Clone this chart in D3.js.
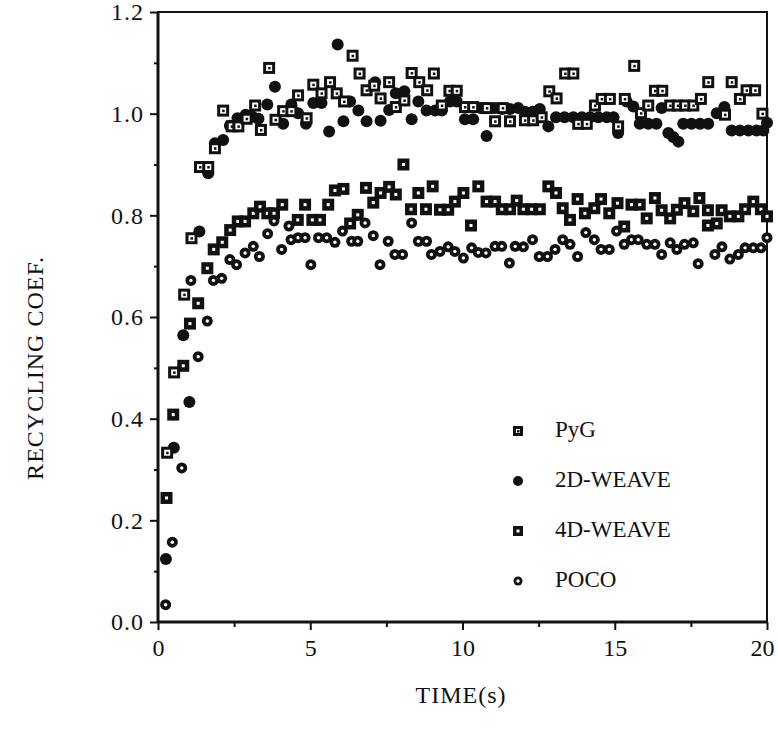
<!DOCTYPE html>
<html>
<head>
<meta charset="utf-8">
<style>
  body { margin: 0; background: #fff; }
  text { font-family: "Liberation Serif", "Times New Roman", serif; fill: #111; }
</style>
</head>
<body>
<script src="https://cdn.jsdelivr.net/npm/d3@7/dist/d3.min.js"></script>
<script>
// data: [time (s), recycling coef.]
var pyg = [[0.30,0.333],[0.53,0.491],[0.86,0.644],[1.10,0.755],[1.38,0.895],[1.65,0.895],[1.87,0.932],[2.14,1.006],[2.42,0.975],[2.64,0.975],[2.91,0.99],[3.19,1.016],[3.38,0.968],[3.65,1.09],[3.86,0.988],[4.11,1.005],[4.38,1.005],[4.60,1.036],[4.88,0.991],[5.10,1.057],[5.37,1.04],[5.65,1.062],[5.87,1.04],[6.11,1.024],[6.39,1.114],[6.62,1.079],[6.85,1.046],[7.10,1.055],[7.31,1.03],[7.59,1.062],[7.81,1.013],[8.09,1.026],[8.33,1.08],[8.58,1.062],[8.84,1.046],[9.06,1.079],[9.32,1.016],[9.57,1.045],[9.81,1.045],[10.08,1.013],[10.35,1.013],[10.80,1.011],[11.07,0.985],[11.32,1.011],[11.56,0.985],[12.05,0.987],[12.32,0.987],[12.60,0.993],[12.85,1.044],[13.09,1.03],[13.37,1.079],[13.64,1.079],[13.80,0.98],[14.08,0.98],[14.35,1.016],[14.57,1.029],[14.84,1.029],[15.11,0.975],[15.33,1.029],[15.64,1.094],[15.86,1.001],[16.10,1.016],[16.32,1.045],[16.56,1.045],[16.82,1.016],[17.07,1.016],[17.31,1.016],[17.58,1.016],[17.83,1.029],[18.07,1.062],[18.62,0.998],[18.84,1.062],[19.11,1.029],[19.33,1.046],[19.61,1.046],[19.85,1.0]];

var weave2d = [[0.26,0.124],[0.52,0.343],[0.83,0.564],[1.03,0.433],[1.36,0.768],[1.65,0.883],[1.87,0.942],[2.14,0.948],[2.36,0.976],[2.61,0.991],[2.88,0.998],[3.10,0.994],[3.30,0.99],[3.59,1.018],[3.84,1.053],[4.11,0.98],[4.38,1.018],[4.60,1.001],[4.86,0.98],[5.10,1.021],[5.37,1.021],[5.62,0.965],[5.90,1.136],[6.09,0.985],[6.31,1.024],[6.58,1.006],[6.85,0.985],[7.13,1.062],[7.31,0.986],[7.59,1.007],[7.81,1.04],[8.09,1.044],[8.33,0.989],[8.55,1.024],[8.82,1.006],[9.10,1.006],[9.32,1.006],[9.59,1.024],[9.81,1.024],[10.08,0.989],[10.35,0.989],[10.60,1.011],[10.79,0.956],[11.05,1.011],[11.30,1.009],[11.56,1.009],[11.83,1.011],[12.05,1.004],[12.30,1.004],[12.54,1.009],[12.82,0.975],[13.07,0.993],[13.35,0.993],[13.64,0.993],[13.92,0.993],[14.19,0.993],[14.46,0.993],[14.74,0.993],[14.96,0.993],[15.11,0.962],[15.39,1.024],[15.61,1.014],[15.82,0.98],[16.10,0.98],[16.37,0.98],[16.54,1.011],[16.76,0.962],[16.92,0.954],[17.09,0.945],[17.25,0.98],[17.52,0.98],[17.80,0.98],[18.07,0.98],[18.35,1.001],[18.60,1.013],[18.84,0.967],[19.11,0.967],[19.39,0.967],[19.66,0.967],[19.88,0.967],[20.0,0.982]];

var weave4d = [[0.28,0.244],[0.50,0.408],[0.83,0.504],[1.05,0.587],[1.32,0.627],[1.62,0.696],[1.83,0.733],[2.11,0.747],[2.37,0.771],[2.62,0.788],[2.86,0.788],[3.13,0.804],[3.35,0.817],[3.59,0.804],[3.81,0.804],[4.08,0.821],[4.59,0.791],[4.83,0.821],[5.07,0.791],[5.32,0.791],[5.59,0.821],[5.81,0.849],[6.09,0.852],[6.31,0.784],[6.56,0.801],[6.83,0.854],[7.07,0.825],[7.31,0.844],[7.59,0.856],[7.81,0.841],[8.06,0.9],[8.31,0.812],[8.55,0.844],[8.80,0.812],[9.02,0.857],[9.26,0.811],[9.53,0.811],[9.75,0.827],[10.03,0.844],[10.28,0.78],[10.52,0.857],[10.79,0.827],[11.07,0.827],[11.29,0.812],[11.56,0.812],[11.78,0.829],[12.0,0.812],[12.27,0.812],[12.54,0.812],[12.82,0.857],[13.07,0.844],[13.29,0.814],[13.53,0.791],[13.78,0.832],[14.02,0.804],[14.33,0.814],[14.55,0.832],[14.82,0.804],[15.09,0.824],[15.31,0.778],[15.55,0.821],[15.82,0.821],[16.05,0.794],[16.32,0.834],[16.54,0.81],[16.82,0.794],[17.04,0.811],[17.29,0.824],[17.58,0.808],[17.78,0.834],[18.06,0.81],[18.06,0.78],[18.35,0.784],[18.51,0.81],[18.78,0.798],[19.06,0.798],[19.28,0.812],[19.55,0.827],[19.80,0.812],[20.0,0.798]];

var poco = [[0.25,0.034],[0.47,0.157],[0.78,0.303],[1.08,0.672],[1.32,0.522],[1.62,0.592],[1.82,0.672],[2.09,0.676],[2.36,0.713],[2.58,0.703],[2.86,0.726],[3.13,0.739],[3.33,0.719],[3.60,0.764],[3.81,0.789],[4.06,0.733],[4.30,0.779],[4.37,0.752],[4.60,0.756],[4.83,0.756],[5.02,0.703],[5.27,0.756],[5.54,0.756],[5.81,0.747],[6.06,0.769],[6.36,0.749],[6.56,0.749],[6.80,0.785],[7.07,0.76],[7.29,0.703],[7.56,0.749],[7.78,0.723],[8.03,0.723],[8.33,0.785],[8.55,0.749],[8.82,0.749],[8.98,0.723],[9.26,0.729],[9.53,0.738],[9.75,0.729],[10.03,0.716],[10.30,0.736],[10.52,0.727],[10.77,0.726],[11.07,0.739],[11.29,0.739],[11.54,0.706],[11.73,0.739],[12.0,0.738],[12.30,0.752],[12.52,0.719],[12.79,0.719],[13.04,0.733],[13.29,0.752],[13.53,0.743],[13.78,0.719],[14.05,0.766],[14.33,0.752],[14.55,0.733],[14.82,0.733],[15.06,0.769],[15.31,0.743],[15.55,0.752],[15.77,0.752],[16.05,0.743],[16.32,0.743],[16.54,0.723],[16.82,0.746],[17.04,0.733],[17.29,0.743],[17.58,0.746],[17.74,0.705],[18.29,0.723],[18.52,0.738],[18.78,0.714],[19.06,0.723],[19.28,0.736],[19.55,0.736],[19.80,0.736],[20.0,0.756]];

var legendLabels = ["PyG", "2D-WEAVE", "4D-WEAVE", "POCO"];
var xTicks = [0, 5, 10, 15, 20];
var xMinor = [2.5, 7.5, 12.5, 17.5];
var yTicks = [0, 0.2, 0.4, 0.6, 0.8, 1.0, 1.2];
var yMinor = [0.1, 0.3, 0.5, 0.7, 0.9, 1.1];

var width = 778, height = 744;
var svg = d3.select("body").append("svg")
    .attr("width", width)
    .attr("height", height);

var x = d3.scaleLinear().domain([0, 20]).range([158, 767]);
var y = d3.scaleLinear().domain([0, 1.2]).range([622, 12]);

// axes
var fmt = d3.format(".1f");
var gx = svg.append("g").attr("transform", "translate(0,622)")
    .call(d3.axisBottom(x).tickValues(xTicks).tickSize(8).tickPadding(9));
svg.append("g").attr("transform", "translate(0,622)")
    .call(d3.axisBottom(x).tickValues(xMinor).tickSize(5).tickFormat(""));
var gy = svg.append("g").attr("transform", "translate(158,0)")
    .call(d3.axisLeft(y).tickValues(yTicks).tickSize(8).tickPadding(6).tickFormat(fmt));
svg.append("g").attr("transform", "translate(158,0)")
    .call(d3.axisLeft(y).tickValues(yMinor).tickSize(4).tickFormat(""));

svg.selectAll(".domain").remove();
svg.selectAll(".tick line").attr("stroke", "#111").attr("stroke-width", 2);
svg.selectAll(".tick text")
    .style("font-family", '"Liberation Serif", serif')
    .style("font-size", "24px")
    .attr("fill", "#000");
gy.selectAll(".tick text").style("letter-spacing", "1px");
// last x label sits at the right edge of the page, pull it in a bit
gx.selectAll(".tick text").filter(d => d === 20).attr("x", -5);

// frame
svg.append("rect")
    .attr("x", 158).attr("y", 12)
    .attr("width", 767 - 158).attr("height", 622 - 12)
    .attr("fill", "none").attr("stroke", "#111").attr("stroke-width", 2);
svg.append("line").attr("x1", 158).attr("x2", 158).attr("y1", 12).attr("y2", 622)
    .attr("stroke", "#111").attr("stroke-width", 3);
svg.append("line").attr("x1", 158).attr("x2", 767).attr("y1", 622).attr("y2", 622)
    .attr("stroke", "#111").attr("stroke-width", 3);

// marker painters
function drawPyg(g, s) {
    g.append("rect").attr("x", -s / 2).attr("y", -s / 2).attr("width", s).attr("height", s)
        .attr("fill", "#fff").attr("stroke", "#111").attr("stroke-width", 3);
    g.append("rect").attr("x", -1).attr("y", -1).attr("width", 2.5).attr("height", 2.5).attr("fill", "#111");
}
function draw4d(g, s) {
    g.append("rect").attr("x", -s / 2 - 1.5).attr("y", -s / 2 - 1.5).attr("width", s + 3).attr("height", s + 3)
        .attr("fill", "#111");
    g.append("rect").attr("x", -1.5).attr("y", -1.5).attr("width", 3).attr("height", 3).attr("fill", "#fff");
}
function draw2d(g, s) {
    g.append("circle").attr("r", s / 2 + 1.5).attr("fill", "#111");
}
function drawPoco(g, s) {
    g.append("circle").attr("r", s / 2 + 1).attr("fill", "#111");
    g.append("circle").attr("r", 1.7).attr("fill", "#fff");
}

var series = [
    {data: poco, draw: drawPoco},
    {data: weave4d, draw: draw4d},
    {data: weave2d, draw: draw2d},
    {data: pyg, draw: drawPyg}
];

var plot = svg.append("g");
series.forEach(function(sr) {
    plot.selectAll(null)
        .data(sr.data)
        .join("g")
        .attr("transform", d => "translate(" + x(d[0]) + "," + y(d[1]) + ")")
        .each(function() { sr.draw(d3.select(this), 9); });
});

// legend
var painters = [drawPyg, draw2d, draw4d, drawPoco];
var lg = svg.append("g");
legendLabels.forEach(function(lab, i) {
    var yy = 429 + i * 50;
    var m = lg.append("g").attr("transform", "translate(518," + (yy + 2) + ")");
    painters[i](m, 7);
    lg.append("text").attr("x", 555).attr("y", yy).attr("dy", "0.35em")
        .style("font-size", "23px").text(lab);
});

// axis titles
svg.append("text")
    .attr("x", 461).attr("y", 703)
    .attr("text-anchor", "middle")
    .style("font-size", "24px")
    .style("letter-spacing", "1px")
    .text("TIME(s)");
svg.append("text")
    .attr("transform", "translate(43,368) rotate(-90)")
    .attr("text-anchor", "middle")
    .style("font-size", "24px")
    .style("letter-spacing", "1px")
    .text("RECYCLING COEF.");
</script>
</body>
</html>
